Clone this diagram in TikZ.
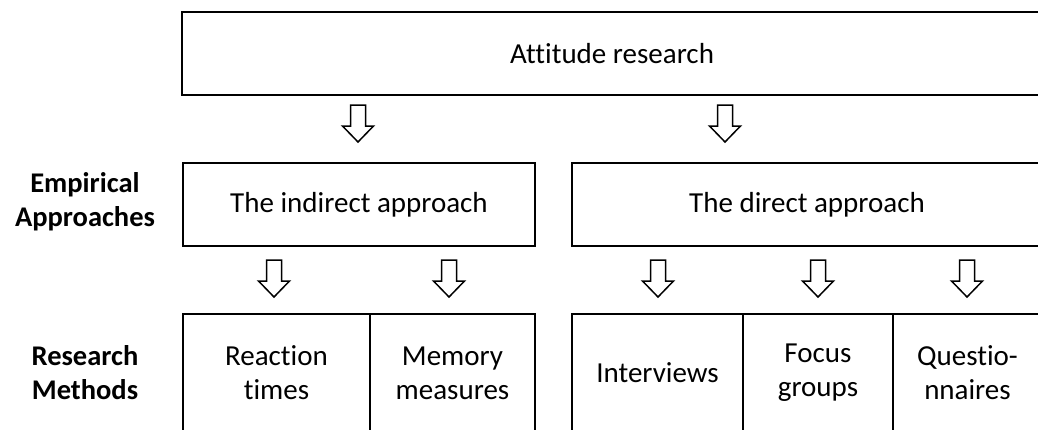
\documentclass[tikz,border=0pt]{standalone}
\usepackage{fontspec}
\setmainfont{Carlito}[Ligatures=NoCommon]
\begin{document}
\begin{tikzpicture}[x=1pt,y=-1pt,
  box/.style={draw, line width=2.6pt, rectangle, inner sep=0pt, align=center,
    font=\fontsize{29}{34}\selectfont},
  celltext/.style={align=center, inner sep=0pt, font=\fontsize{29}{34}\selectfont},
  side/.style={align=center, inner sep=0pt, font=\bfseries\fontsize{28.5}{34}\selectfont},
  hollow/.style={draw, line width=1.5pt, fill=white, line join=miter},
  downarrow/.pic={\draw[hollow] (-7.5,0) -- (7.5,0) -- (7.5,21) -- (15.5,21)
     -- (0,37) -- (-15.5,21) -- (-7.5,21) -- cycle;}]
\useasboundingbox (0,0) rectangle (1038,429);
\clip (0,0) rectangle (1038,429);

% top level
\node[box, minimum width=860pt, minimum height=83pt] (top) at (612,53.5) {Attitude research};

% empirical approaches
\node[box, minimum width=352pt, minimum height=83pt] (indirect) at (359,204.5) {The indirect approach};
\node[box, minimum width=470pt, minimum height=83pt] (direct) at (807,204.5) {The direct approach};

% research methods (cells run past the lower edge)
\node[box, minimum width=187pt, minimum height=130pt] (rt) at (276.5,379) {};
\node[box, minimum width=165pt, minimum height=130pt] (mm) at (452.5,379) {};
\node[box, minimum width=171pt, minimum height=130pt] (iv) at (657.5,379) {};
\node[box, minimum width=150pt, minimum height=130pt] (fg) at (818,379) {};
\node[box, minimum width=149pt, minimum height=130pt] (qn) at (967.5,379) {};

\node[celltext] (rtt) at ([yshift=6pt]rt.center) {Reaction\\times};
\node[celltext] (mmt) at ([yshift=6pt]mm.center) {Memory\\measures};
\node[celltext] (ivt) at ([yshift=6pt]iv.center) {Interviews};
\node[celltext] (fgt) at ([yshift=6pt]fg.center) {Focus\\groups};
\node[celltext] (qnt) at ([yshift=6pt]qn.center) {Questio-\\nnaires};

% row labels
\node[side] (emp) at (85,202) {Empirical\\Approaches};
\node[side] (res) at (85,373) {Research\\Methods};

% block arrows
\pic at (358,105) {downarrow};
\pic at (725,105) {downarrow};
\pic at (274,260) {downarrow};
\pic at (449,260) {downarrow};
\pic at (658,260) {downarrow};
\pic at (818,260) {downarrow};
\pic at (967,260) {downarrow};
\end{tikzpicture}
\end{document}
